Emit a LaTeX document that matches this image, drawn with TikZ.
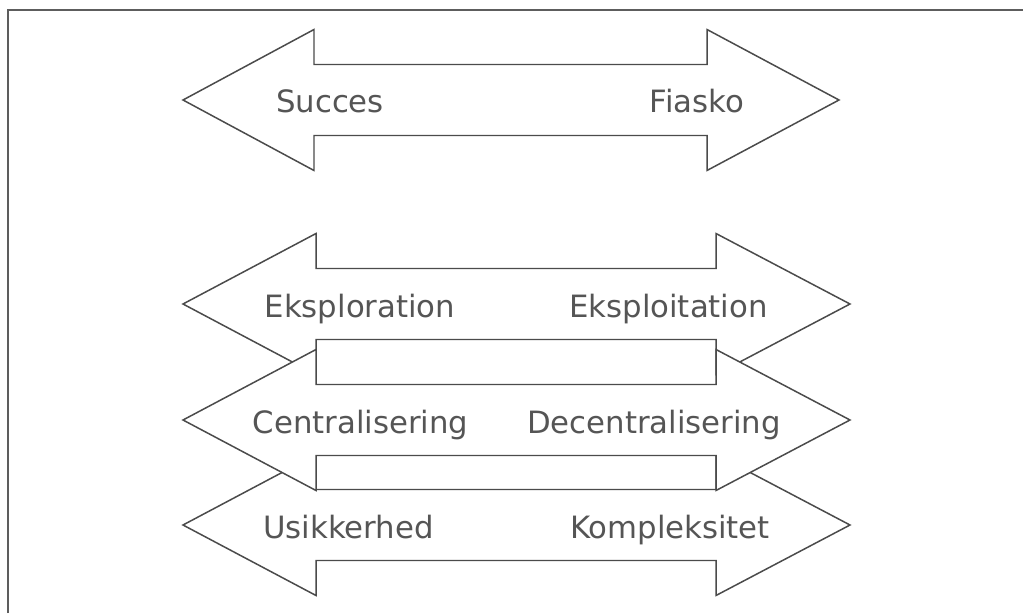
\documentclass[tikz,border=0pt]{standalone}
\usepackage{fontspec}
\setmainfont{DejaVu Sans}
\definecolor{linjegraa}{RGB}{75,75,75}
\definecolor{tekstgraa}{RGB}{85,85,85}
\tikzset{
	pil/.style={draw=linjegraa,line width=0.85pt,fill=white,line join=miter},
	tekst/.style={anchor=base,text=tekstgraa,font=\fontsize{17.5}{20}\selectfont},
	ramme/.style={draw=linjegraa!90,line width=1.1pt}
}

\begin{document}
\begin{tikzpicture}
	\useasboundingbox (0,0) rectangle (20.46,12.26);
	\draw[ramme] (0.16,0) -- (0.16,12.06) -- (20.46,12.06);
	
	% Succes / Fiasko
	\draw[pil,shift={(0,10.26)}] (3.66,0) -- (6.28,1.41) -- (6.28,0.71) -- (14.14,0.71) -- (14.14,1.41) -- (16.78,0) -- (14.14,-1.41) -- (14.14,-0.71) -- (6.28,-0.71) -- (6.28,-1.41) -- cycle;
	
	% de tre pile nedenunder, den midterste tegnes sidst
	\foreach \c in {6.18,1.76,3.86}
		\draw[pil,shift={(0,\c)}] (3.66,0) -- (6.32,1.41) -- (6.32,0.71) -- (14.32,0.71) -- (14.32,1.41) -- (17.0,0) -- (14.32,-1.41) -- (14.32,-0.71) -- (6.32,-0.71) -- (6.32,-1.41) -- cycle;
	
	\node[tekst] (succes) at (6.60,10.0) {Succes};
	\node[tekst] (fiasko) at (13.94,10.0) {Fiasko};
	\node[tekst] (eksploration) at (7.20,5.92) {Eksploration};
	\node[tekst] (eksploitation) at (13.37,5.92) {Eksploitation};
	\node[tekst] (central) at (7.21,3.60) {Centralisering};
	\node[tekst] (decentral) at (13.08,3.60) {Decentralisering};
	\node[tekst] (usikkerhed) at (6.97,1.50) {Usikkerhed};
	\node[tekst] (kompleksitet) at (13.40,1.50) {Kompleksitet};
\end{tikzpicture}
\end{document}
